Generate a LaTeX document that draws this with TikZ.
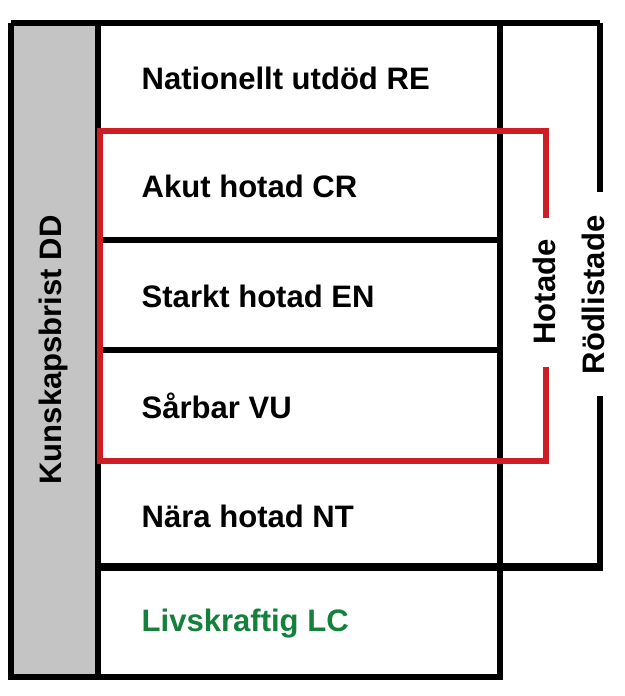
\documentclass[tikz,border=0pt]{standalone}
\usepackage{fontspec}
\setmainfont{Liberation Sans}
\usepackage{xcolor}
\definecolor{hotred}{RGB}{204,30,36}
\definecolor{lcgreen}{RGB}{20,128,60}
\definecolor{ddgray}{RGB}{196,196,196}
\tikzset{
	rowlabel/.style={
		anchor=west,
		font=\fontsize{26.5pt}{0}\selectfont\bfseries,
		inner sep=0
	},
	sidelabel/.style={
		rotate=90,
		font=\fontsize{26.5pt}{0}\selectfont\bfseries,
		inner sep=0
	}
}
\begin{document}
\begin{tikzpicture}[x=0.03cm,y=-0.03cm,line width=4.6pt]
	\useasboundingbox (0,0) rectangle (625,696);
	% grey column
	\fill[ddgray] (11,23) rectangle (98,677);
	% rows
	\draw (11,23) -- (600,23);
	\draw (11,23) -- (11,677) -- (500,677) -- (500,23);
	\draw (98,23) -- (98,677);
	\foreach \y in {240,350} \draw (98,\y) -- (500,\y);
	\draw[line width=6pt] (98,567) -- (603,567);
	% outer bracket
	\coordinate (rtop) at (600,23);
	\coordinate (rgap1) at (600,192);
	\coordinate (rgap2) at (600,396);
	\coordinate (rbot) at (600,567);
	\draw (rtop) -- (rgap1);
	\draw (rgap2) -- (rbot);
	% red frame
	\coordinate (hgap1) at (546,218);
	\coordinate (hgap2) at (546,367);
	\draw[hotred,line width=5pt] (hgap1) -- (546,131) -- (100,131) -- (100,461) -- (546,461) -- (hgap2);
	% labels
	\node[rowlabel] (re) at (139,78) {Nationellt utdöd RE};
	\node[rowlabel] (cr) at (139,186) {Akut hotad CR};
	\node[rowlabel] (en) at (139,296) {Starkt hotad EN};
	\node[rowlabel] (vu) at (139,406) {Sårbar VU};
	\node[rowlabel] (nt) at (139,516) {Nära hotad NT};
	\node[rowlabel,text=lcgreen] (lc) at (139,624) {Livskraftig LC};
	\node[sidelabel] (dd) at (53,350) {Kunskapsbrist DD};
	\node[sidelabel] (hot) at (544,292) {Hotade};
	\node[sidelabel] (rod) at (593,295) {Rödlistade};
\end{tikzpicture}
\end{document}
